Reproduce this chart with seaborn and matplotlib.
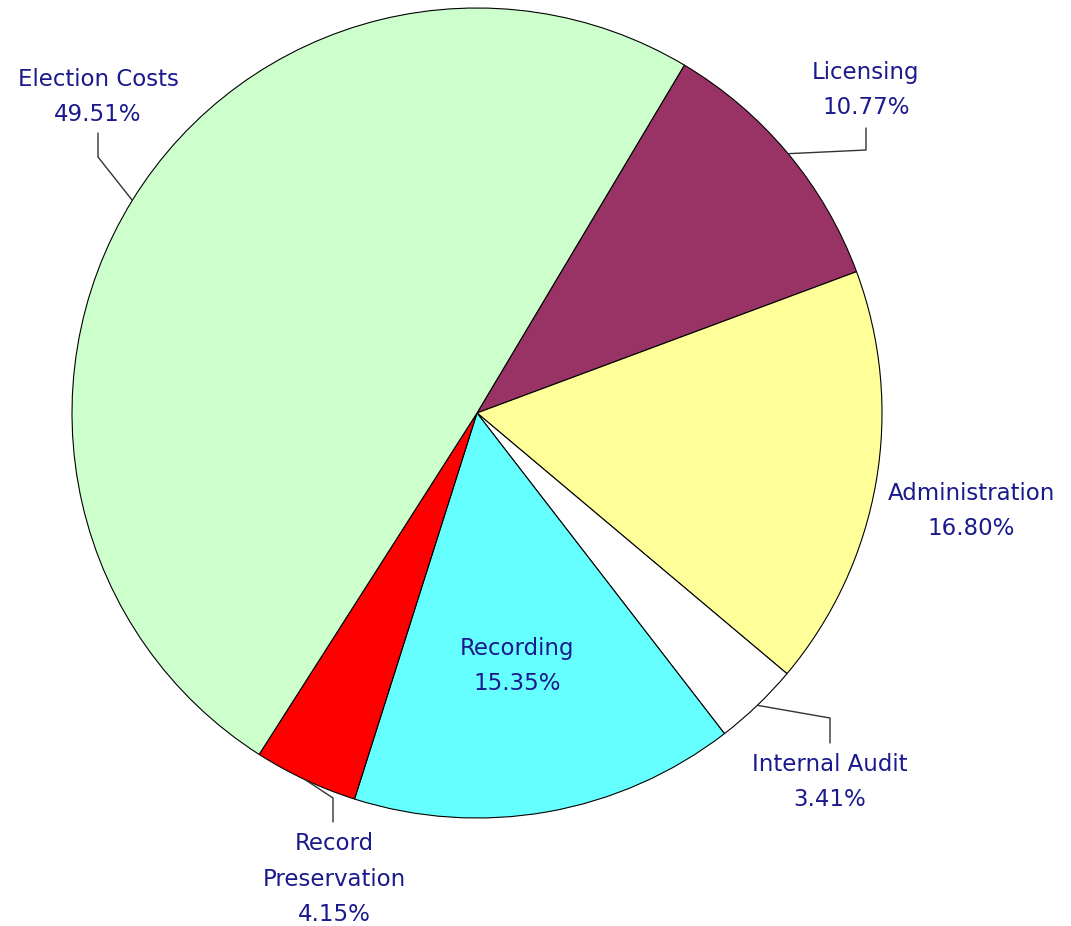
import matplotlib
matplotlib.use("Agg")
import matplotlib.pyplot as plt
import seaborn as sns
import numpy as np

categories = ["Licensing", "Administration", "Internal Audit", "Recording",
              "Record Preservation", "Election Costs"]
label_text = ["Licensing", "Administration", "Internal Audit", "Recording",
              "Record\nPreservation", "Election Costs"]
values = [10.77, 16.80, 3.41, 15.35, 4.15, 49.51]
colors = ["#993366", "#FFFF99", "#FFFFFF", "#66FFFF", "#FF0000", "#CCFFCC"]

sns.set_style("white")
plt.rcParams['font.family'] = ['DejaVu Sans']

W, H = 1071, 926
fig = plt.figure(figsize=(W / 100, H / 100), dpi=100)
ax = fig.add_axes([0, 0, 1, 1])

cx, cy, R = 477, H - 413, 405
wedges, _ = ax.pie(values, colors=colors, startangle=59.2, counterclock=False,
                   center=(cx, cy), radius=R, frame=True,
                   wedgeprops=dict(edgecolor="black", linewidth=0.8))
ax.set_xlim(0, W)
ax.set_ylim(0, H)
ax.set_aspect("equal")
ax.axis("off")

# layout: text centre (px from top-left), leader elbow and leader top (px)
layout = {
    "Licensing": dict(text=(866, 90), elbow=(866, 150), top=(866, 128)),
    "Administration": dict(text=(971, 511)),
    "Internal Audit": dict(text=(830, 782), elbow=(830, 718), top=(830, 743)),
    "Recording": dict(text=(517, 666)),
    "Record Preservation": dict(text=(334, 879), elbow=(333, 798), top=(333, 822)),
    "Election Costs": dict(text=(98, 97), elbow=(98, 157), top=(98, 133)),
}

txtcol = "#1a1a8c"
for w, cat, lt, v in zip(wedges, categories, label_text, values):
    L = layout[cat]
    tx, ty = L["text"]
    ax.text(tx, H - ty, f"{lt}\n{v:.2f}%", ha="center", va="center",
            fontsize=16.5, color=txtcol, linespacing=1.72)
    if "elbow" in L:
        mid = np.deg2rad((w.theta1 + w.theta2) / 2)
        ex, ey = cx + R * np.cos(mid), cy + R * np.sin(mid)
        bx, by = L["elbow"]
        tpx, tpy = L["top"]
        ax.plot([ex, bx, tpx], [ey, H - by, H - tpy], color="#333333", lw=1.0)

fig.savefig("out.png", dpi=100)
